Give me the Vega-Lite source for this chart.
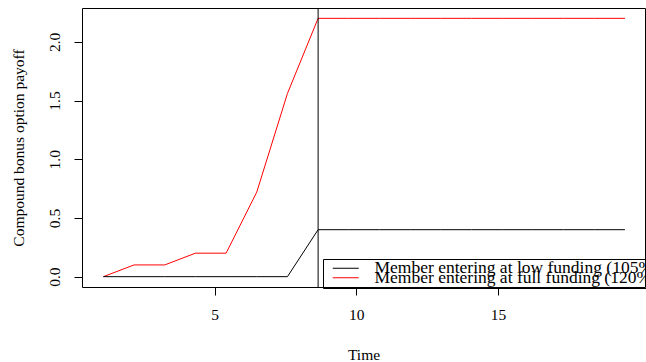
{
  "$schema": "https://vega.github.io/schema/vega-lite/v6.json",
  "width": 563,
  "height": 279,
  "autosize": {"type": "none"},
  "padding": {"left": 82, "top": 8, "right": 1, "bottom": 75},
  "background": "white",
  "config": {
    "view": {"stroke": "black", "strokeWidth": 1},
    "font": "Liberation Serif",
    "axis": {
      "domain": false,
      "grid": false,
      "tickColor": "black",
      "tickSize": 8,
      "labelColor": "black",
      "titleColor": "black",
      "labelFont": "Liberation Serif",
      "titleFont": "Liberation Serif",
      "labelFontSize": 15.5,
      "titleFontSize": 15.5,
      "titleFontWeight": "normal"
    },
    "legend": {
      "labelFont": "Liberation Serif",
      "labelFontSize": 17.5,
      "labelColor": "black",
      "orient": "none",
      "direction": "vertical",
      "padding": 1,
      "symbolType": "M-3,0H3",
      "symbolSize": 75,
      "symbolStrokeWidth": 1,
      "symbolOffset": 13,
      "labelOffset": 20,
      "labelLimit": 1000
    }
  },
  "data": {
    "values": [
      {"t": 1.07, "payoff": 0, "series": "Member entering at low funding (105%)"},
      {"t": 2.153, "payoff": 0, "series": "Member entering at low funding (105%)"},
      {"t": 3.236, "payoff": 0, "series": "Member entering at low funding (105%)"},
      {"t": 4.319, "payoff": 0, "series": "Member entering at low funding (105%)"},
      {"t": 5.402, "payoff": 0, "series": "Member entering at low funding (105%)"},
      {"t": 6.485, "payoff": 0, "series": "Member entering at low funding (105%)"},
      {"t": 7.568, "payoff": 0, "series": "Member entering at low funding (105%)"},
      {"t": 8.651, "payoff": 0.4, "series": "Member entering at low funding (105%)"},
      {"t": 9.734, "payoff": 0.4, "series": "Member entering at low funding (105%)"},
      {"t": 10.817, "payoff": 0.4, "series": "Member entering at low funding (105%)"},
      {"t": 11.9, "payoff": 0.4, "series": "Member entering at low funding (105%)"},
      {"t": 12.983, "payoff": 0.4, "series": "Member entering at low funding (105%)"},
      {"t": 14.066, "payoff": 0.4, "series": "Member entering at low funding (105%)"},
      {"t": 15.149, "payoff": 0.4, "series": "Member entering at low funding (105%)"},
      {"t": 16.232, "payoff": 0.4, "series": "Member entering at low funding (105%)"},
      {"t": 17.315, "payoff": 0.4, "series": "Member entering at low funding (105%)"},
      {"t": 18.398, "payoff": 0.4, "series": "Member entering at low funding (105%)"},
      {"t": 19.481, "payoff": 0.4, "series": "Member entering at low funding (105%)"},
      {"t": 1.07, "payoff": 0, "series": "Member entering at full funding (120%)"},
      {"t": 2.153, "payoff": 0.1, "series": "Member entering at full funding (120%)"},
      {"t": 3.236, "payoff": 0.1, "series": "Member entering at full funding (120%)"},
      {"t": 4.319, "payoff": 0.2, "series": "Member entering at full funding (120%)"},
      {"t": 5.402, "payoff": 0.2, "series": "Member entering at full funding (120%)"},
      {"t": 6.485, "payoff": 0.72, "series": "Member entering at full funding (120%)"},
      {"t": 7.568, "payoff": 1.56, "series": "Member entering at full funding (120%)"},
      {"t": 8.651, "payoff": 2.2, "series": "Member entering at full funding (120%)"},
      {"t": 9.734, "payoff": 2.2, "series": "Member entering at full funding (120%)"},
      {"t": 10.817, "payoff": 2.2, "series": "Member entering at full funding (120%)"},
      {"t": 11.9, "payoff": 2.2, "series": "Member entering at full funding (120%)"},
      {"t": 12.983, "payoff": 2.2, "series": "Member entering at full funding (120%)"},
      {"t": 14.066, "payoff": 2.2, "series": "Member entering at full funding (120%)"},
      {"t": 15.149, "payoff": 2.2, "series": "Member entering at full funding (120%)"},
      {"t": 16.232, "payoff": 2.2, "series": "Member entering at full funding (120%)"},
      {"t": 17.315, "payoff": 2.2, "series": "Member entering at full funding (120%)"},
      {"t": 18.398, "payoff": 2.2, "series": "Member entering at full funding (120%)"},
      {"t": 19.481, "payoff": 2.2, "series": "Member entering at full funding (120%)"}
    ]
  },
  "encoding": {
    "x": {
      "field": "t",
      "type": "quantitative",
      "scale": {"domain": [0.316, 20.19], "nice": false, "zero": false},
      "axis": {
        "title": "Time",
        "values": [5, 10, 15],
        "labelPadding": 12,
        "titleY": 72,
        "titleBaseline": "alphabetic"
      }
    },
    "y": {
      "field": "payoff",
      "type": "quantitative",
      "scale": {"domain": [-0.088, 2.288], "nice": false, "zero": false},
      "axis": {
        "title": "Compound bonus option payoff",
        "values": [0, 0.5, 1, 1.5, 2],
        "format": ".1f",
        "labelAngle": -90,
        "labelAlign": "center",
        "labelBaseline": "middle",
        "labelPadding": 20,
        "titleX": -64,
        "titleBaseline": "middle"
      }
    }
  },
  "layer": [
    {
      "transform": [{"filter": "datum.series === 'Member entering at full funding (120%)'"}],
      "mark": {"type": "line", "strokeWidth": 1, "clip": true},
      "encoding": {
        "stroke": {
          "field": "series",
          "type": "nominal",
          "scale": {"domain": ["Member entering at full funding (120%)"], "range": ["#ff0000"]},
          "legend": {
            "title": "\u00a0",
            "titleOrient": "top",
            "titleFontSize": 9,
            "titlePadding": 0,
            "legendX": 241,
            "legendY": 251,
            "strokeColor": "black",
            "zindex": 0
          }
        }
      }
    },
    {
      "transform": [{"filter": "datum.series === 'Member entering at low funding (105%)'"}],
      "mark": {"type": "line", "strokeWidth": 1, "clip": true},
      "encoding": {
        "stroke": {
          "field": "series",
          "type": "nominal",
          "scale": {"domain": ["Member entering at low funding (105%)"], "range": ["#000000"]},
          "legend": {
            "title": null,
            "legendX": 241,
            "legendY": 250.5,
            "zindex": 1
          }
        }
      }
    },
    {
      "data": {"values": [{"v": 8.651}]},
      "mark": {"type": "rule", "color": "black", "strokeWidth": 1},
      "encoding": {"x": {"field": "v", "type": "quantitative"}, "y": null}
    }
  ],
  "resolve": {"scale": {"stroke": "independent"}, "legend": {"stroke": "independent"}}
}
